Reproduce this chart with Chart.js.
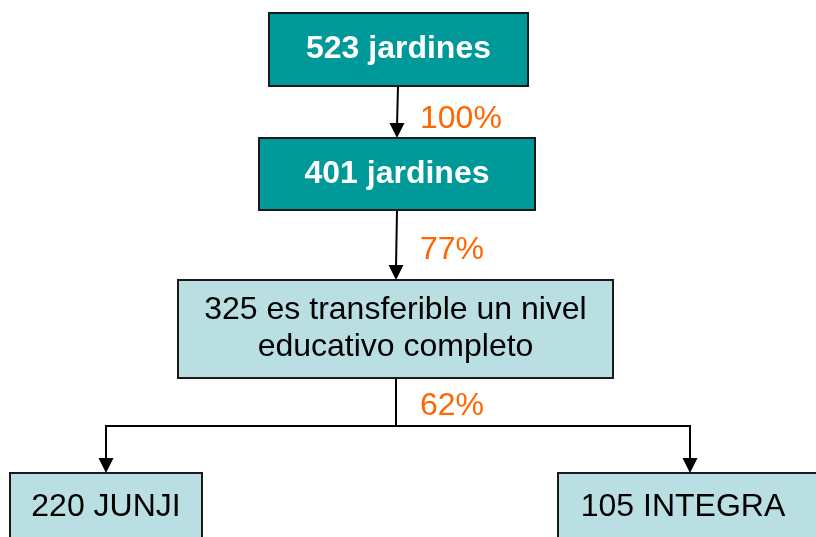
<!DOCTYPE html>
<html>
<head>
<meta charset="utf-8">
<script src="https://cdn.jsdelivr.net/npm/chart.js@4"></script>
<style>
  html, body { margin: 0; padding: 0; background: #fff; }
  canvas { display: block; }
</style>
</head>
<body>
<canvas id="myChart" width="816" height="537"></canvas>
<script>
// flowchart values
const nodeCounts = [523, 401, 325, 220, 105];
const nodeNames = ['jardines', 'jardines', 'es transferible un nivel educativo completo', 'JUNJI', 'INTEGRA'];
const stepPercents = [100, 77, 62];

// layout, in the units of the hidden axes (0..816, 0..537)
const boxLayout = [
  { x0: 269, x1: 528, y0: 13, y1: 86, fill: '#009999', color: '#ffffff', bold: true },
  { x0: 259, x1: 535, y0: 138, y1: 210, fill: '#009999', color: '#ffffff', bold: true },
  { x0: 178, x1: 613, y0: 280, y1: 378, fill: '#b9dfe2', color: '#000000', bold: false },
  { x0: 10, x1: 202, y0: 473, y1: 570, fill: '#b9dfe2', color: '#000000', bold: false, textX: 106, textY: 507 },
  { x0: 558, x1: 830, y0: 473, y1: 570, fill: '#b9dfe2', color: '#000000', bold: false, textX: 683, textY: 507 }
];
const percentLayout = [
  { x: 420, y: 119 },
  { x: 420, y: 250 },
  { x: 420, y: 406 }
];
const FONT = 'Arial, "Liberation Sans", sans-serif';

function wrapText(ctx, text, maxWidth) {
  const words = text.split(' ');
  const lines = [];
  let line = '';
  words.forEach((w) => {
    const test = line ? line + ' ' + w : w;
    if (line && ctx.measureText(test).width > maxWidth) {
      lines.push(line);
      line = w;
    } else {
      line = test;
    }
  });
  if (line) lines.push(line);
  return lines;
}

function arrowHead(ctx, x, y) {
  ctx.beginPath();
  ctx.moveTo(x, y);
  ctx.lineTo(x - 7.5, y - 15);
  ctx.lineTo(x + 7.5, y - 15);
  ctx.closePath();
  ctx.fill();
}

const flowPlugin = {
  id: 'flow',
  afterDraw(chart) {
    const ctx = chart.ctx;
    const sx = (v) => chart.scales.x.getPixelForValue(v);
    const sy = (v) => chart.scales.y.getPixelForValue(v);
    ctx.save();

    // connectors
    ctx.strokeStyle = '#000';
    ctx.fillStyle = '#000';
    ctx.lineWidth = 2;
    ctx.beginPath();
    ctx.moveTo(sx(398), sy(86));
    ctx.lineTo(sx(397), sy(126));
    ctx.moveTo(sx(397), sy(210));
    ctx.lineTo(sx(396), sy(268));
    ctx.moveTo(sx(396), sy(378));
    ctx.lineTo(sx(396), sy(426));
    ctx.moveTo(sx(106), sy(462));
    ctx.lineTo(sx(106), sy(426));
    ctx.lineTo(sx(690), sy(426));
    ctx.lineTo(sx(690), sy(462));
    ctx.stroke();
    arrowHead(ctx, sx(397), sy(138));
    arrowHead(ctx, sx(396), sy(280));
    arrowHead(ctx, sx(106), sy(473));
    arrowHead(ctx, sx(690), sy(473));

    // boxes
    boxLayout.forEach((b, i) => {
      const x0 = sx(b.x0), x1 = sx(b.x1), y0 = sy(b.y0), y1 = sy(b.y1);
      ctx.fillStyle = b.fill;
      ctx.fillRect(x0, y0, x1 - x0, y1 - y0);
      ctx.strokeStyle = '#1a1a1a';
      ctx.lineWidth = 2;
      ctx.strokeRect(x0, y0, x1 - x0, y1 - y0);

      ctx.font = (b.bold ? 'bold ' : '') + '32px ' + FONT;
      ctx.fillStyle = b.color;
      ctx.textAlign = 'center';
      ctx.textBaseline = 'middle';
      const lines = wrapText(ctx, nodeCounts[i] + ' ' + nodeNames[i], x1 - x0 - 30);
      const lh = 37;
      const cy = b.textY !== undefined ? sy(b.textY) : (y0 + y1) / 2;
      const cx = b.textX !== undefined ? sx(b.textX) : (x0 + x1) / 2;
      lines.forEach((ln, k) => {
        ctx.fillText(ln, cx, cy + (k - (lines.length - 1) / 2) * lh);
      });
    });

    // percentages
    ctx.font = '32px ' + FONT;
    ctx.fillStyle = '#ff6600';
    ctx.textAlign = 'left';
    ctx.textBaseline = 'middle';
    stepPercents.forEach((p, i) => {
      ctx.fillText(p + '%', sx(percentLayout[i].x), sy(percentLayout[i].y));
    });
    ctx.restore();
  }
};

const ctx = document.getElementById('myChart').getContext('2d');
const chart = new Chart(ctx, {
  type: 'scatter',
  data: { datasets: [{ data: [], pointRadius: 0 }] },
  options: {
    responsive: false,
    animation: false,
    devicePixelRatio: 1,
    layout: { padding: 0 },
    plugins: { legend: { display: false }, tooltip: { enabled: false } },
    scales: {
      x: { type: 'linear', min: 0, max: 816, display: false },
      y: { type: 'linear', min: 0, max: 537, reverse: true, display: false }
    }
  },
  plugins: [flowPlugin]
});
</script>
</body>
</html>
